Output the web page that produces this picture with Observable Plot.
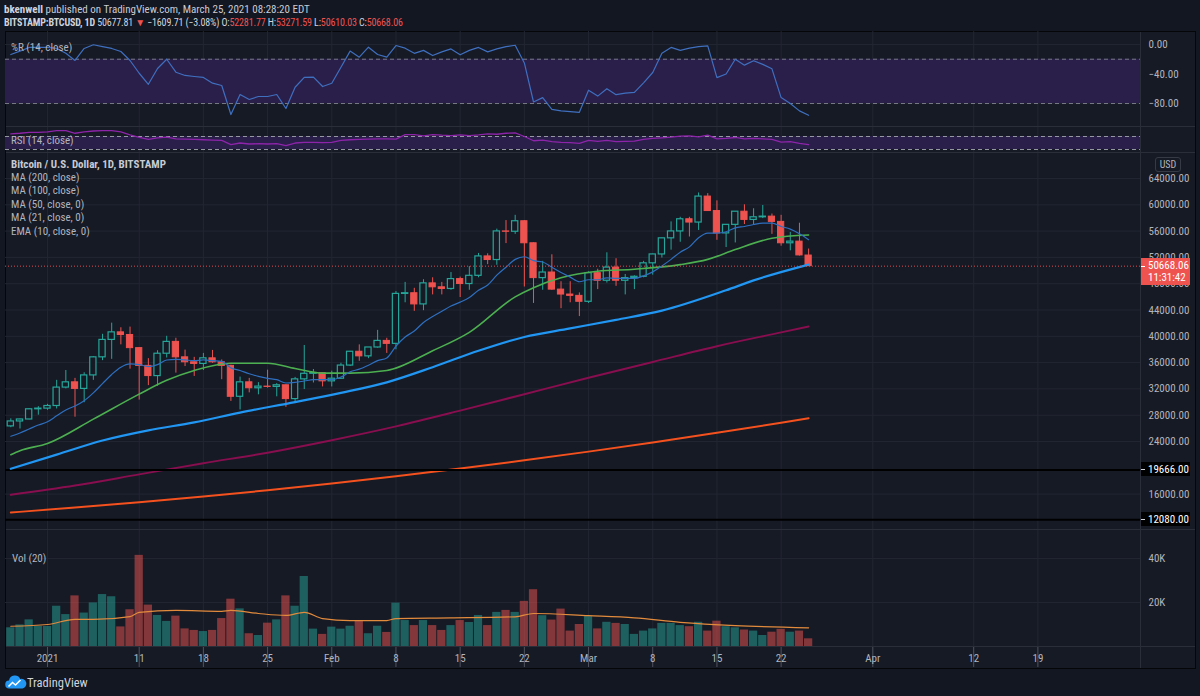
<!DOCTYPE html>
<html><head><meta charset="utf-8">
<script src="https://cdn.jsdelivr.net/npm/d3@7"></script>
<script src="https://cdn.jsdelivr.net/npm/@observablehq/plot@0.6"></script>
<style>
html,body{margin:0;padding:0;background:#131722;}
#root{position:relative;width:1200px;height:696px;background:#131722;overflow:hidden;
 font-family:"Liberation Sans Narrow","Roboto Condensed",Roboto,sans-serif;color:#b2b5be;font-size:11px;}
.t{position:absolute;white-space:nowrap;line-height:13px;}
.r{color:#ef5350;}
</style></head><body><div id="root"></div>
<script>
// ---------------- DATA ----------------
const dates = ["2020-12-28","2020-12-29","2020-12-30","2020-12-31","2021-01-01","2021-01-02","2021-01-03","2021-01-04","2021-01-05","2021-01-06","2021-01-07","2021-01-08","2021-01-09","2021-01-10","2021-01-11","2021-01-12","2021-01-13","2021-01-14","2021-01-15","2021-01-16","2021-01-17","2021-01-18","2021-01-19","2021-01-20","2021-01-21","2021-01-22","2021-01-23","2021-01-24","2021-01-25","2021-01-26","2021-01-27","2021-01-28","2021-01-29","2021-01-30","2021-01-31","2021-02-01","2021-02-02","2021-02-03","2021-02-04","2021-02-05","2021-02-06","2021-02-07","2021-02-08","2021-02-09","2021-02-10","2021-02-11","2021-02-12","2021-02-13","2021-02-14","2021-02-15","2021-02-16","2021-02-17","2021-02-18","2021-02-19","2021-02-20","2021-02-21","2021-02-22","2021-02-23","2021-02-24","2021-02-25","2021-02-26","2021-02-27","2021-02-28","2021-03-01","2021-03-02","2021-03-03","2021-03-04","2021-03-05","2021-03-06","2021-03-07","2021-03-08","2021-03-09","2021-03-10","2021-03-11","2021-03-12","2021-03-13","2021-03-14","2021-03-15","2021-03-16","2021-03-17","2021-03-18","2021-03-19","2021-03-20","2021-03-21","2021-03-22","2021-03-23","2021-03-24","2021-03-25"];
const open  = [26300,27050,27350,28900,29000,29400,32200,33000,32000,34050,36800,39450,40600,40200,38200,35500,33950,37350,39150,36800,36050,35800,36650,36050,35500,30800,33000,32100,32350,32300,32550,30450,33450,34300,34400,33150,33550,35550,37650,36950,38300,39300,38850,46450,46550,44850,48050,47450,47200,48700,47950,49200,52150,51600,55950,55900,57500,54150,48850,49700,47100,46350,46150,45250,49600,48450,50450,48450,48850,49050,51100,52450,54900,55950,57800,57300,61250,59050,55650,56950,58950,57700,58100,58200,57400,54150,54400,52282];
const high  = [27450,27400,28950,29300,29650,33300,34800,33600,34450,36900,40300,42000,41300,41400,38250,36600,37800,40000,39700,37900,36800,37400,37850,36400,35600,33800,33600,32950,34850,32800,32600,33750,38600,34950,34450,34700,35900,37700,38700,38300,40900,39700,46800,48200,47300,48600,48900,48200,49700,49000,50600,52600,52550,56300,57600,58400,57600,54200,51400,52400,48300,48300,46600,49800,50200,52700,51800,49400,49200,51400,52500,54900,57400,58100,58100,61800,61700,60600,56950,58950,60000,59400,59900,58600,58400,55800,57200,53272];
const low   = [26100,25900,27300,28000,28750,28950,32000,27700,29900,33300,36300,36500,38700,35000,30300,32500,32400,36700,34400,35400,33900,34800,35900,33400,30100,28800,31400,31100,32100,30800,29200,29900,31900,32900,32300,32300,33450,35400,36200,36600,38200,37400,37950,45100,43800,43900,46300,46300,47000,45900,47000,48900,50900,50800,54100,55500,47500,45000,47000,47000,44200,45100,43000,45000,47100,48100,47600,46300,47100,48900,49300,51900,53100,54300,55100,56100,59000,54600,53500,54200,57000,57000,57900,55500,53700,53000,52200,50610];
const close = [27050,27350,28900,29000,29400,32200,33000,32000,34050,36800,39450,40600,40200,38200,35500,33950,37350,39150,36800,36050,35800,36650,36050,35500,30800,33000,32100,32350,32300,32550,30450,33450,34300,34400,33150,33550,35550,37650,36950,38300,39300,38850,46450,46550,44850,48050,47450,47200,48700,47950,49200,52150,51600,55950,55900,57500,54150,48850,49700,47100,46350,46150,45250,49600,48450,50450,48450,48850,49050,51100,52450,54900,55950,57800,57300,61250,59050,55650,56950,58950,57700,58100,58200,57400,54150,54400,52300,50668];
const volumeK = [8.5,9.8,12.1,9.2,9.1,18.3,14.5,23.0,15.2,19.8,23.6,22.6,8.9,16.7,41.4,18.8,14.1,11.4,13.8,8.0,7.3,6.8,7.3,12.7,21.5,17.1,5.8,5.0,10.6,12.1,23.0,18.3,31.8,7.9,5.5,8.8,7.9,9.2,11.8,5.8,9.2,6.4,19.7,11.8,9.5,11.8,9.5,7.3,9.5,11.8,10.9,14.1,9.5,15.5,16.4,15.5,20.5,25.8,14.0,12.0,17.0,7.0,10.0,13.6,8.0,11.0,10.5,10.0,5.5,7.0,8.0,10.5,10.5,9.5,9.0,11.0,7.0,11.5,9.0,8.5,7.5,7.0,5.0,6.5,7.8,6.5,7.0,3.5];
const williamsR = [-13.6,-9,-4,-4,-4,-5.4,-12,-21.7,-5.4,-0.4,-3,-5.4,-9.5,-21.7,-39,-54,-32.5,-20,-37.6,-42,-43.4,-44.7,-52.5,-55.6,-95,-67.8,-74.6,-70.5,-70.5,-67.8,-86.8,-58,-44.7,-44.3,-57,-52.5,-30.8,-9,-17.2,-3.7,-13.6,-17.2,-1.4,-5,-12,-8,-15,-10,-6,-14,-8,-4,-10,-6,-3,-1,-25,-78,-72,-88,-90,-91,-92,-62,-70,-60,-68,-66,-65,-52,-38,-12,-4,-8,-5,-3,-2,-45,-40,-20,-28,-22,-27,-33,-72,-80,-90,-96];
const rsi = [78,80,83,83,84,88,88,80,84,87,88,88,84,75,67,61,66,68,63,62,61,60,59,58,45,50,47,48,47,48,42,50,52,52,51,52,58,60,61,62,63,63,62,76,76,72,76,74,73,75,73,75,78,77,80,81,70,57,59,54,52,51,49,58,55,58,54,55,56,61,64,66,68,71,72,69,74,63,64,67,63,64,63,61,53,54,49,45];
const ema10 = [24800,25300,25900,26500,27000,27900,28800,29400,30200,31400,32800,34200,35300,35800,35700,35400,35700,36400,36500,36400,36300,36400,36300,36200,35200,34800,34300,33900,33600,33400,32900,33000,33200,33400,33400,33400,33800,34600,35000,35600,36300,36700,38500,39900,40800,42100,43000,43800,44600,45200,45900,47000,47800,49300,50500,51700,52100,51500,51300,50500,49700,49000,48300,48600,48600,48900,48800,48800,48800,49200,49800,50700,51700,52800,53600,55000,55700,55700,55900,56500,56700,57000,57200,57200,56700,56300,55600,54700];
const ma21 = [["2020-12-28",22000],["2020-12-29",22600],["2021-01-01",23700],["2021-01-06",27400],["2021-01-11",31200],["2021-01-14",33300],["2021-01-17",34800],["2021-01-21",35900],["2021-01-25",35900],["2021-01-28",35100],["2021-01-31",34400],["2021-02-03",34400],["2021-02-07",34800],["2021-02-12",37800],["2021-02-16",40600],["2021-02-21",46000],["2021-02-23",47400],["2021-02-26",48900],["2021-03-02",49900],["2021-03-06",50200],["2021-03-11",50900],["2021-03-14",51700],["2021-03-17",53200],["2021-03-21",54900],["2021-03-25",55400]];
const ma50 = [["2020-12-28",19850],["2021-01-02",22000],["2021-01-07",24150],["2021-01-12",25700],["2021-01-17",26900],["2021-01-22",28400],["2021-01-28",30000],["2021-02-02",31400],["2021-02-07",33000],["2021-02-12",35300],["2021-02-17",37800],["2021-02-22",39900],["2021-02-27",41200],["2021-03-04",42500],["2021-03-09",43900],["2021-03-16",47000],["2021-03-19",48500],["2021-03-25",50900]];
const ma100 = [["2020-12-28",15900],["2021-01-04",17300],["2021-01-11",19000],["2021-01-18",20700],["2021-01-25",22300],["2021-02-01",24200],["2021-02-08",26300],["2021-02-15",28700],["2021-02-22",31200],["2021-03-01",33700],["2021-03-08",36100],["2021-03-15",38500],["2021-03-22",40600],["2021-03-25",41500]];
const ma200 = [["2020-12-28",13200],["2021-01-04",13950],["2021-01-11",14750],["2021-01-18",15630],["2021-01-25",16580],["2021-02-01",17610],["2021-02-08",18710],["2021-02-15",19890],["2021-02-22",21140],["2021-03-01",22460],["2021-03-08",23850],["2021-03-15",25320],["2021-03-22",26860],["2021-03-25",27540]];
const volMA = [["2020-12-28",9.2],["2021-01-01",10.0],["2021-01-04",12.3],["2021-01-06",12.3],["2021-01-10",13.6],["2021-01-11",15.5],["2021-01-15",16.4],["2021-01-20",16.0],["2021-01-21",16.4],["2021-01-24",15.0],["2021-01-27",14.1],["2021-01-29",15.5],["2021-01-31",12.7],["2021-02-03",11.8],["2021-02-07",11.8],["2021-02-08",12.7],["2021-02-14",13.0],["2021-02-21",13.5],["2021-02-23",15.0],["2021-03-01",14.0],["2021-03-06",13.0],["2021-03-11",11.0],["2021-03-17",9.5],["2021-03-25",8.5]];
const levels = [19666, 12080];
const lastPrice = 50668.06;
const priceTicks = [16000,24000,28000,32000,36000,40000,44000,48000,52000,56000,60000,64000];
const wrTicks = [0,-40,-80];
const wrBand = [-20,-80];
const rsiBand = [70,30];
const volTicks = [20,40];
const tickDates = ["2021-01-01","2021-01-11","2021-01-18","2021-01-25","2021-02-01","2021-02-08","2021-02-15","2021-02-22","2021-03-01","2021-03-08","2021-03-15","2021-03-22","2021-04-01","2021-04-12","2021-04-19"];
const tickLabels = ["2021","11","18","25","Feb","8","15","22","Mar","8","15","22","Apr","12","19"];
const headerOHLC = ["52281.77","53271.59","50610.03","50668.06"];
const legendMain = ["MA (200, close)","MA (100, close)","MA (50, close, 0)","MA (21, close, 0)","EMA (10, close, 0)"];

// ---------------- SETUP ----------------
const FONT = '"Liberation Sans Narrow","Roboto Condensed",Roboto,sans-serif';
const UP = "#26a69a", DOWN = "#ef5350", BG = "#161a25", GRID = "#222632";
const root = document.getElementById("root");
const parseDate = d3.utcParse("%Y-%m-%d");
const DAY = 864e5;
const shift = (d, k) => new Date(+d + k * DAY);
const xDomain = [new Date("2020-12-27T10:05:00Z"), new Date("2021-04-30T04:34:00Z")];
const gridDates = tickDates.map(parseDate);

const candles = dates.map((d, i) => ({date: parseDate(d), o: open[i], h: high[i], l: low[i], c: close[i], v: volumeK[i], wr: williamsR[i], rsi: rsi[i], ema: ema10[i]}));
const ups = candles.filter(d => d.c >= d.o);
const downs = candles.filter(d => d.c < d.o);
const pts = arr => arr.map(([d, v]) => ({date: parseDate(d), v}));

function el(tag, css, html) {
  const e = document.createElement(tag);
  e.style.cssText = css;
  if (html != null) e.innerHTML = html;
  root.append(e);
  return e;
}
function txt(x, y, html, css = "") { return el("div", `left:${x}px;top:${y - 6.5}px;` + css, html).classList.add("t"); }

// chart frame background
el("div", `position:absolute;left:5px;top:31px;width:1189px;height:636px;background:${BG};border:1px solid #050608;`);

function pane(top, height, yDomain, marks, axisTicks, fmt) {
  const p = Plot.plot({
    width: 1200, height, marginLeft: 5, marginRight: 60, marginTop: 0, marginBottom: 0,
    x: {type: "utc", domain: xDomain, axis: null},
    y: {domain: yDomain, axis: null, label: null},
    style: {background: "transparent", fontFamily: FONT, fontSize: "11px", color: "#b2b5be", overflow: "visible"},
    marks: [
      Plot.ruleX(gridDates, {stroke: GRID}),
      ...marks,
      axisTicks ? Plot.axisY(axisTicks, {anchor: "right", tickSize: 0, tickPadding: 8, tickFormat: fmt, fill: "#b2b5be", fontSize: 11, label: null}) : null
    ]
  });
  p.style.position = "absolute"; p.style.left = "0px"; p.style.top = top + "px";
  root.append(p);
  return p;
}

// ---------------- %R pane ----------------
pane(31, 95, [-111.2, 17.6], [
  Plot.ruleY(wrTicks, {stroke: GRID}),
  Plot.rectY([wrBand], {x1: xDomain[0], x2: xDomain[1], y1: d => d[0], y2: d => d[1], fill: "#2a1f4a"}),
  Plot.ruleY(wrBand, {stroke: "#787b86", strokeDasharray: "4,3"}),
  Plot.line(candles, {x: "date", y: "wr", stroke: "#3f6fbf", strokeWidth: 1.2})
], wrTicks, d3.format(".2f"));

// ---------------- RSI pane ----------------
pane(127, 25, [20.8, 97.7], [
  Plot.rectY([rsiBand], {x1: xDomain[0], x2: xDomain[1], y1: d => d[0], y2: d => d[1], fill: "#2a1f4a"}),
  Plot.ruleY(rsiBand, {stroke: "#9598a1", strokeDasharray: "4,3"}),
  Plot.line(candles, {x: "date", y: "rsi", stroke: "#8e24aa", strokeWidth: 1.3, clip: true})
]);

// ---------------- Main price pane ----------------
const main = pane(153, 376, [10616, 67802], [
  Plot.ruleY(priceTicks, {stroke: GRID}),
  Plot.line(pts(ma200), {x: "date", y: "v", stroke: "#f4511e", strokeWidth: 2, curve: "monotone-x"}),
  Plot.line(pts(ma100), {x: "date", y: "v", stroke: "#880e4f", strokeWidth: 2, curve: "monotone-x"}),
  Plot.ruleY(levels, {stroke: "#000", strokeWidth: 2}),
  Plot.ruleX(ups, {x: "date", y1: "l", y2: "h", stroke: UP}),
  Plot.ruleX(downs, {x: "date", y1: "l", y2: "h", stroke: DOWN}),
  Plot.rect(ups, {x1: d => shift(d.date, -0.34), x2: d => shift(d.date, 0.34), y1: "o", y2: "c", fill: BG, stroke: UP, strokeWidth: 1.2}),
  Plot.rect(downs, {x1: d => shift(d.date, -0.34), x2: d => shift(d.date, 0.34), y1: "o", y2: "c", fill: DOWN, stroke: DOWN, strokeWidth: 1}),
  Plot.line(pts(ma50), {x: "date", y: "v", stroke: "#2196f3", strokeWidth: 2.2, curve: "monotone-x"}),
  Plot.line(pts(ma21), {x: "date", y: "v", stroke: "#4caf50", strokeWidth: 1.6, curve: "monotone-x"}),
  Plot.line(candles, {x: "date", y: "ema", stroke: "#2e6fc0", strokeWidth: 1.2, curve: "monotone-x"}),
  Plot.ruleY([lastPrice], {stroke: DOWN, strokeDasharray: "1,2", strokeOpacity: 0.9})
], priceTicks, d3.format(".2f"));

// ---------------- Volume pane ----------------
pane(530, 116, [0, 52.7], [
  Plot.ruleY(volTicks, {stroke: GRID}),
  Plot.rectY(ups, {x1: d => shift(d.date, -0.45), x2: d => shift(d.date, 0.45), y: "v", fill: UP, fillOpacity: 0.5}),
  Plot.rectY(downs, {x1: d => shift(d.date, -0.45), x2: d => shift(d.date, 0.45), y: "v", fill: DOWN, fillOpacity: 0.5}),
  Plot.line(pts(volMA), {x: "date", y: "v", stroke: "#e38b3d", strokeWidth: 1.2, curve: "monotone-x"})
], volTicks, d => d + "K");

// ---------------- Time axis ----------------
const xa = Plot.plot({
  width: 1200, height: 20, marginLeft: 5, marginRight: 60, marginTop: 0, marginBottom: 0,
  x: {type: "utc", domain: xDomain, axis: null},
  style: {background: "transparent", fontFamily: FONT, fontSize: "11px", color: "#b2b5be"},
  marks: [
    Plot.tickX(gridDates, {y1: 0, y2: 3, stroke: "#50535e"}),
    Plot.text(tickLabels.map((s, i) => ({date: gridDates[i], s})), {x: "date", text: "s", frameAnchor: "middle", dy: 1, fill: "#b2b5be", fontSize: 11})
  ]
});
xa.style.position = "absolute"; xa.style.left = "0px"; xa.style.top = "647px";
root.append(xa);

// separators
for (const y of [126, 152, 529, 646]) el("div", `position:absolute;left:6px;top:${y}px;width:1189px;height:1px;background:#2a2e39;`);
el("div", `position:absolute;left:1140px;top:32px;width:1px;height:636px;background:#2a2e39;`);

// ---------------- Text ----------------
txt(4, 9, `<b style="color:#d1d4dc">bkenwell</b> <span style="color:#c8cbd3">published on TradingView.com, March 25, 2021 08:28:20 EDT</span>`, "font-size:11px;");
txt(4, 22, `<b style="color:#d1d4dc">BITSTAMP:BTCUSD, 1D</b> <span style="color:#d1d4dc">50677.81</span> <span class="r">▼</span> <span style="color:#d1d4dc">−1609.71 (−3.08%)</span> <span style="color:#d1d4dc">O:</span><span class="r">${headerOHLC[0]}</span> <span style="color:#d1d4dc">H:</span><span class="r">${headerOHLC[1]}</span> <span style="color:#d1d4dc">L:</span><span class="r">${headerOHLC[2]}</span> <span style="color:#d1d4dc">C:</span><span class="r">${headerOHLC[3]}</span>`, "font-size:10px;letter-spacing:-0.15px;");
txt(11, 47, "%R (14, close)", "color:#b2b5be;");
txt(11, 140, "RSI (14, close)", "color:#b2b5be;");
txt(11, 164, "<b>Bitcoin / U.S. Dollar, 1D, BITSTAMP</b>", "color:#c8cbd3;");
legendMain.forEach((s, i) => txt(11, 177.5 + i * 13.4, s, "color:#b2b5be;"));
txt(12, 558, "Vol (20)", "color:#b2b5be;");

// price-axis labels
const yMain = v => 153 + main.scale("y").apply(v);
el("div", `position:absolute;left:1155px;top:157px;width:24px;height:13px;border:1px solid #363a45;border-radius:3px;color:#b2b5be;text-align:center;line-height:13px;font-size:10px;`, "USD");
{
  const y = yMain(lastPrice);
  el("div", `position:absolute;left:1141px;top:${y - 8}px;width:49px;height:27px;background:${DOWN};`);
  txt(1148, y, d3.format(".2f")(lastPrice), "color:#fff;");
  txt(1148, y + 12, "11:31:42", "color:#fff;");
  el("div", `position:absolute;left:1141px;top:${y}px;width:4px;height:1px;background:#fff;`);
}
levels.forEach(v => {
  const y = yMain(v);
  el("div", `position:absolute;left:1141px;top:${y - 7}px;width:49px;height:14px;background:#000;`);
  el("div", `position:absolute;left:1141px;top:${y}px;width:4px;height:1px;background:#d1d4dc;`);
  txt(1148, y, d3.format(".2f")(v), "color:#fff;");
});

// TradingView logo
el("div", `position:absolute;left:5px;top:675px;width:22px;height:14px;`,
  `<svg width="22" height="14" viewBox="0 0 22 14"><path d="M4.5 13.5a4 4 0 0 1-.5-8 6 6 0 0 1 11.3-1.6A4.8 4.8 0 0 1 17.5 13.5z" fill="#2196f3"/><path d="M3.5 11.5l4-4 3 2.5 5-5" stroke="#fff" stroke-width="1.6" fill="none"/></svg>`);
txt(27, 682, "TradingView", "color:#d1d4dc;font-size:12.5px;");
</script></body></html>
